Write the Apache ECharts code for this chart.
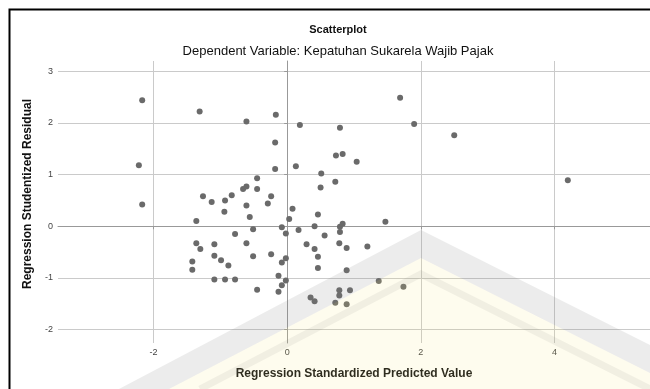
<!DOCTYPE html>
<html>
<head>
<meta charset="utf-8">
<script src="https://cdn.jsdelivr.net/npm/echarts@6/dist/echarts.min.js"></script>
<style>html,body{margin:0;padding:0;background:#fff;}#c{width:650px;height:389px;}</style>
</head>
<body>
<div id="c"></div>
<script>
// Regression Standardized Predicted Value (x) and Studentized Residual (y)
var predicted = [-2.17,-1.31,-0.61,-0.17,0.19,0.79,1.69,1.90,2.50,-0.18,0.73,0.83,1.04,-2.22,-0.18,0.13,0.51,0.72,0.50,4.20,
  -2.17,-0.45,-0.66,-0.61,-0.45,-1.26,-1.13,-0.93,-0.83,-0.24,-0.29,-0.61,-0.94,-0.56,0.08,0.03,-1.36,-0.08,-0.51,0.17,
  0.46,0.41,0.79,0.83,1.47,-0.02,-0.78,0.79,0.56,-1.36,-1.30,-1.09,-0.61,0.29,0.41,0.78,0.89,1.20,-0.24,-0.51,
  -1.09,-0.99,-0.88,-1.42,-1.42,-0.02,-0.08,0.46,0.46,0.89,-1.09,-0.93,-0.78,-0.13,-0.02,-0.08,-0.13,-0.45,1.37,1.74,
  0.78,0.94,0.78,0.35,0.41,0.72,0.89];
var residual = [2.44,2.22,2.03,2.16,1.96,1.91,2.49,1.98,1.76,1.62,1.37,1.40,1.25,1.18,1.11,1.16,1.02,0.86,0.75,0.89,
  0.42,0.93,0.72,0.77,0.72,0.58,0.47,0.50,0.60,0.58,0.44,0.40,0.28,0.18,0.34,0.14,0.10,-0.02,-0.06,-0.07,
  0.23,0.00,-0.01,0.05,0.09,-0.14,-0.15,-0.11,-0.18,-0.33,-0.44,-0.35,-0.33,-0.35,-0.44,-0.33,-0.42,-0.39,-0.54,-0.58,
  -0.57,-0.66,-0.76,-0.68,-0.84,-0.62,-0.70,-0.59,-0.81,-0.85,-1.03,-1.03,-1.03,-0.96,-1.05,-1.14,-1.27,-1.23,-1.06,-1.17,
  -1.24,-1.24,-1.34,-1.38,-1.45,-1.48,-1.51];
var xTicks = [-2, 0, 2, 4];
var yTicks = [-2, -1, 0, 1, 2, 3];
var titleText = 'Scatterplot';
var subtitleText = 'Dependent Variable: Kepatuhan Sukarela Wajib Pajak';
var xName = 'Regression Standardized Predicted Value';
var yName = 'Regression Studentized Residual';

var points = predicted.map(function (v, i) { return [v, residual[i]]; });
var FONT = '"Liberation Sans", Arial, sans-serif';
var chart = echarts.init(document.getElementById('c'), null, {renderer: 'canvas'});
chart.setOption({
  backgroundColor: '#fff',
  animation: false,
  title: [
    {text: titleText, left: 333, top: 19, textAlign: 'center',
     textStyle: {fontFamily: FONT, fontSize: 11, fontWeight: 'bold', color: '#111'}},
    {text: subtitleText, left: 333, top: 40, textAlign: 'center',
     textStyle: {fontFamily: FONT, fontSize: 13, fontWeight: 'normal', color: '#111'}}
  ],
  graphic: [
    // faint watermark overlay (decoration of the source image)
    {type: 'polygon', silent: true, z: 90,
     shape: {points: [[169,389],[421,258],[660,378],[660,389]]},
     style: {fill: 'rgba(245,230,120,0.13)'}},
    {type: 'polygon', silent: true, z: 91,
     shape: {points: [[119,389],[421,230],[660,350],[660,378],[421,258],[169,389]]},
     style: {fill: 'rgba(128,128,128,0.15)'}},
    {type: 'polyline', silent: true, z: 91,
     shape: {points: [[200,389],[421,274],[660,394]]},
     style: {stroke: 'rgba(128,128,128,0.10)', lineWidth: 7, fill: 'none'}},
    {type: 'rect', left: 7, top: 7, shape: {width: 700, height: 420},
     style: {fill: 'none', stroke: '#000', lineWidth: 2}, silent: true, z: 100}
  ],
  grid: {left: 58, top: 61, right: -2, bottom: 46, containLabel: false},
  xAxis: {
    type: 'value', min: -3.43, max: 5.43,
    name: xName, nameLocation: 'middle', nameGap: 25,
    nameTextStyle: {fontFamily: FONT, fontSize: 12, fontWeight: 'bold', color: '#111'},
    axisLine: {show: true, lineStyle: {color: '#999', width: 1}},
    axisTick: {show: true, length: 3, customValues: xTicks, lineStyle: {color: '#999'}},
    axisLabel: {customValues: xTicks, fontFamily: FONT, fontSize: 9, color: '#444', margin: 5},
    splitLine: {show: true, lineStyle: {color: '#cacaca', width: 1}}
  },
  yAxis: {
    type: 'value', min: -2.26, max: 3.2,
    name: yName, nameLocation: 'middle', nameGap: 20, nameRotate: 90,
    nameTextStyle: {fontFamily: FONT, fontSize: 12, fontWeight: 'bold', color: '#111', padding: [0, 0, 0, 16]},
    axisLine: {show: true, lineStyle: {color: '#999', width: 1}},
    axisTick: {show: true, length: 3, customValues: yTicks, lineStyle: {color: '#999'}},
    axisLabel: {customValues: yTicks, fontFamily: FONT, fontSize: 9, color: '#444', margin: 5},
    splitLine: {show: true, lineStyle: {color: '#cacaca', width: 1}}
  },
  series: [{
    type: 'scatter', data: points, symbol: 'circle', symbolSize: 6,
    itemStyle: {color: '#6a6a6a', opacity: 1}
  }]
});
</script>
</body>
</html>
